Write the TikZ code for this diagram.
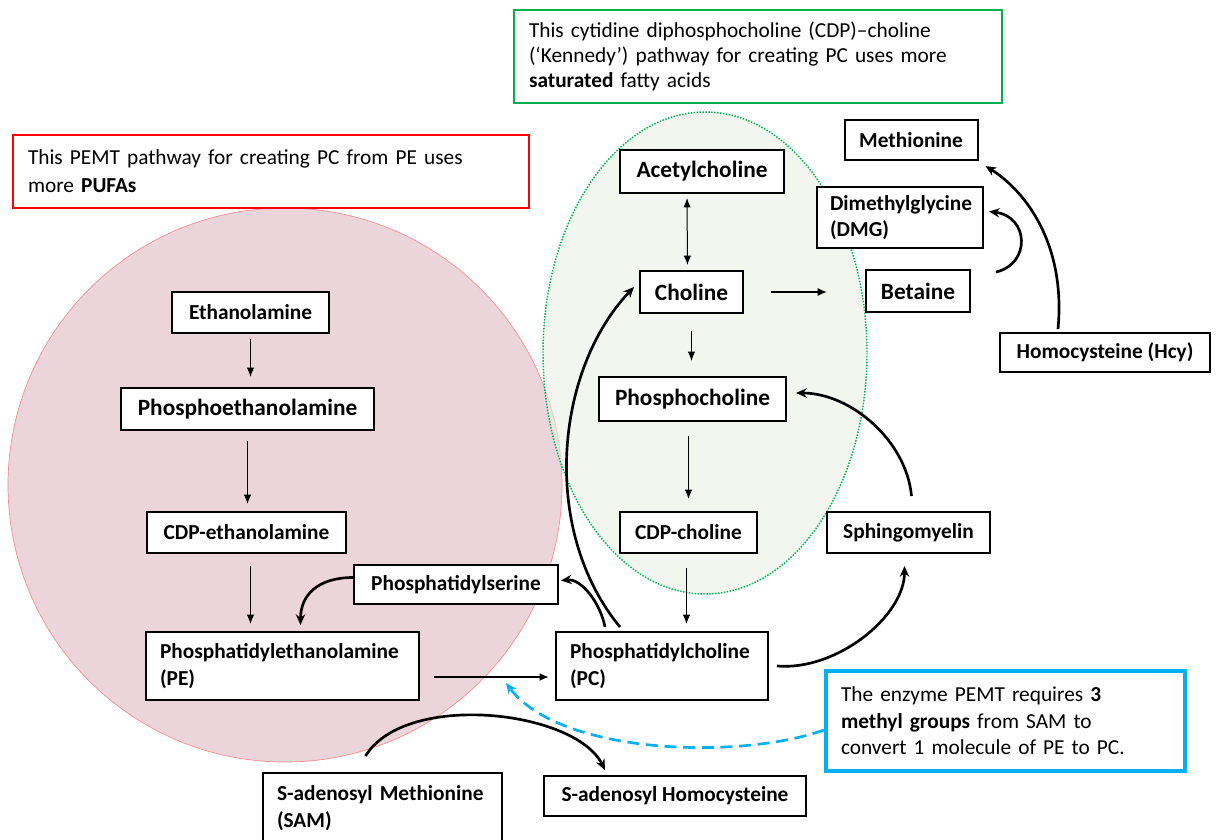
\documentclass[tikz,border=0pt]{standalone}
\usepackage{fontspec}
\setmainfont{Carlito}
\usetikzlibrary{arrows.meta}
\newdimen\px \px=0.75pt
\definecolor{pemtpink}{RGB}{235,213,219}
\definecolor{pemtline}{RGB}{242,140,140}
\definecolor{kennedyfill}{RGB}{235,240,227}
\definecolor{kennedygreen}{RGB}{0,176,80}
\definecolor{samblue}{RGB}{0,176,240}

\begin{document}
\begin{tikzpicture}[x=0.75pt, y=-0.75pt,
  metab/.style={draw, line width=1.5pt, fill=white, inner sep=0pt, font=\bfseries\fontsize{16}{20}\selectfont},
  bigmetab/.style={metab, font=\bfseries\fontsize{17.5}{21}\selectfont},
  twoline/.style={metab, align=left},
  notebox/.style={draw, fill=white, inner sep=0pt, align=left, font=\fontsize{16}{20}\selectfont},
  thinarrow/.style={line width=0.75pt, -{Latex[length=7pt,width=5.5pt]}},
  thickarrow/.style={line width=2pt, -{Stealth[length=8pt,width=7pt]}}]
\useasboundingbox (0,0) rectangle (1221,839);

\fill[pemtpink] (285,485) circle[radius=277];
\draw[pemtline, line width=0.5pt] (285,485) circle[radius=277];
\draw[kennedygreen, line width=1.1pt, dash pattern=on 1.1pt off 1.1pt, fill=kennedyfill, fill opacity=0.6] (705,353) ellipse[x radius=162, y radius=241];

\node[notebox, draw=kennedygreen, line width=1.5pt, minimum width=488\px, minimum height=93\px, text width=458\px, font=\fontsize{16}{19}\selectfont] (kennedy) at (758,56.5)
  {This cytidine diphosphocholine (CDP)–choline\\(‘Kennedy’) pathway for creating PC uses more\\\textbf{saturated} fatty acids};
\node[notebox, draw=red, line width=2.2pt, minimum width=516\px, minimum height=73\px, text width=486\px, font=\fontsize{16}{21}\selectfont] (pemt) at (271,171.5)
  {This PEMT pathway for creating PC from PE uses\\more \textbf{PUFAs}};
\node[notebox, draw=samblue, line width=3pt, minimum width=359\px, minimum height=100\px, text width=329\px] (enzyme) at (1005.5,721)
  {The enzyme PEMT requires \textbf{3}\\\textbf{methyl groups} from SAM to\\convert 1 molecule of PE to PC.};

\node[metab, minimum width=133\px, minimum height=40\px] (met) at (911,140) {Methionine};
\node[bigmetab, minimum width=164\px, minimum height=43\px] (ach) at (702,171.5) {Acetylcholine};
\node[twoline, minimum width=166\px, minimum height=61\px, text width=140\px] (dmg) at (900,217.5) {Dimethylglycine\\(DMG)};
\node[bigmetab, minimum width=103\px, minimum height=42\px] (cho) at (691.5,292) {Choline};
\node[bigmetab, minimum width=104\px, minimum height=42\px] (bet) at (918,291) {Betaine};
\node[metab, minimum width=210\px, minimum height=39\px] (hcy) at (1105,352.5) {Homocysteine (Hcy)};
\node[metab, minimum width=157\px, minimum height=41\px] (eth) at (250.5,312.5) {Ethanolamine};
\node[bigmetab, minimum width=253\px, minimum height=42\px] (peth) at (247.5,409) {Phosphoethanolamine};
\node[bigmetab, minimum width=187\px, minimum height=44\px] (phc) at (692.5,399) {Phosphocholine};
\node[metab, minimum width=199\px, minimum height=41\px] (cdpe) at (246.5,532.5) {CDP-ethanolamine};
\node[metab, minimum width=137\px, minimum height=41\px] (cdpc) at (688.5,532.5) {CDP-choline};
\node[metab, minimum width=163\px, minimum height=41\px] (sph) at (908.5,532.5) {Sphingomyelin};
\node[metab, minimum width=204\px, minimum height=39\px] (ps) at (456,584.5) {Phosphatidylserine};
\node[twoline, minimum width=273\px, minimum height=68\px, text width=245\px] (pe) at (282.5,666) {Phosphatidylethanolamine\\(PE)};
\node[twoline, minimum width=212\px, minimum height=68\px, text width=184\px] (pc) at (662,666) {Phosphatidylcholine\\(PC)};
\node[twoline, minimum width=239\px, minimum height=70\px, text width=211\px] (sam) at (382.5,808) {S-adenosyl Methionine\\(SAM)};
\node[metab, minimum width=262\px, minimum height=40\px] (sah) at (675,796) {S-adenosyl Homocysteine};

\draw[thinarrow, shorten <=5\px, shorten >=10\px] (eth.south) -- (eth.south |- peth.north);
\draw[thinarrow, shorten <=10\px, shorten >=7\px] (peth.south) -- (peth.south |- cdpe.north);
\draw[thinarrow, shorten <=12\px, shorten >=7\px] ([xshift=4\px]cdpe.south) -- ([xshift=4\px]cdpe.south |- pe.north);
\draw[thickarrow] ([yshift=7\px]ps.west) .. controls +(-35,0) and +(0,-30) .. ([xshift=18\px,yshift=6\px]pe.north);
\draw[line width=1.5pt, -{Latex[length=7pt,width=6pt]}] ([xshift=14\px,yshift=-11\px]pe.east) -- ([xshift=-6\px,yshift=-11\px]pc.west);
\draw[thickarrow] ([xshift=-57\px,yshift=4\px]pc.north) .. controls +(-5,-25) and +(20,-2) .. ([xshift=2\px,yshift=4\px]ps.east);
\draw[thickarrow] ([xshift=-42\px,yshift=4\px]pc.north) .. controls (540,530) and (555,370) .. ([xshift=-5\px,yshift=5\px]cho.west);
\draw[thinarrow, shorten <=14\px, shorten >=7\px] ([xshift=-2\px]cdpc.south) -- ([xshift=-2\px]cdpc.south |- pc.north);
\draw[thinarrow, shorten <=14\px, shorten >=12\px] ([xshift=-4\px]phc.south) -- ([xshift=-4\px]phc.south |- cdpc.north);
\draw[thinarrow, shorten <=17\px, shorten >=15\px] (cho.south) -- (cho.south |- phc.north);
\draw[{Latex[length=7pt,width=5.5pt]}-{Latex[length=7pt,width=5.5pt]}, line width=0.75pt, shorten <=4\px, shorten >=5\px] ([xshift=-15\px]ach.south) -- ([xshift=-4\px]cho.north);
\draw[line width=1.2pt, -{Latex[length=7pt,width=6pt]}, shorten <=27\px, shorten >=38\px] (cho.east) -- (cho.east -| bet.west);
\draw[thickarrow] ([xshift=25\px,yshift=19\px]bet.east) .. controls +(35,-8) and +(40,5) .. ([xshift=5\px,yshift=6\px]dmg.east);
\draw[thickarrow] ([xshift=-47\px,yshift=3\px]hcy.north) .. controls +(8,-85) and +(40,25) .. ([xshift=7\px,yshift=-5\px]met.south east);
\draw[thickarrow] ([xshift=3\px,yshift=15\px]sph.north) .. controls +(-5,-55) and +(55,0) .. ([xshift=9\px,yshift=6\px]phc.east);
\draw[thickarrow] ([xshift=8\px]pc.east) .. controls +(60,5) and +(0,50) .. ([xshift=-4\px,yshift=-12\px]sph.south);
\draw[thickarrow] ([xshift=-17\px,yshift=16\px]sam.north) .. controls +(40,-65) and +(-30,-60) .. ([xshift=-70\px,yshift=5\px]sah.north);
\draw[samblue, line width=2pt, dash pattern=on 9pt off 5pt, -{Stealth[length=8pt,width=7pt]}] ([yshift=-9\px]enzyme.west) .. controls (740,760) and (560,755) .. ([xshift=-49\px,yshift=-17\px]pc.west);
\end{tikzpicture}
\end{document}
